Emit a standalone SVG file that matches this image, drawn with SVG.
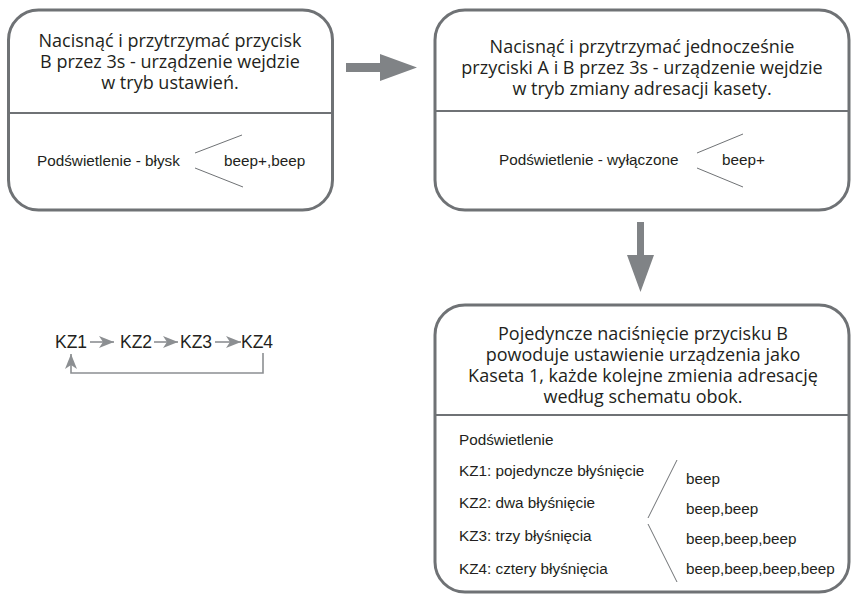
<svg xmlns="http://www.w3.org/2000/svg" width="851" height="595" viewBox="0 0 851 595">
<defs>
<style>
.box{fill:#fff;stroke:#6f7275;stroke-width:3}
.div{stroke:#6f7275;stroke-width:2}
.title{font-family:"Open Sans","Noto Sans",sans-serif;font-size:18px;fill:#231f20;text-anchor:middle}
.body{font-family:"Liberation Sans",Arial,sans-serif;font-size:15.3px;fill:#231f20}
.kz{font-family:"Liberation Sans",Arial,sans-serif;font-size:17.5px;fill:#231f20}
.thin{stroke:#6f7275;stroke-width:1;fill:none}
.big{fill:#808386}
.small{stroke:#8c8f92;stroke-width:1.6;fill:none}
</style>
<marker id="ah" markerUnits="userSpaceOnUse" markerWidth="16" markerHeight="12" viewBox="0 0 16 12" refX="15" refY="6" orient="auto">
<path d="M0,0 L15,6 L0,12 L4,6 z" fill="#8c8f92"/>
</marker>
</defs>
<rect width="851" height="595" fill="#fff"/>

<g id="box1">
<rect class="box" x="8.5" y="10" width="324" height="200" rx="30"/>
<line class="div" x1="8.5" y1="113" x2="332.5" y2="113"/>
<text class="title" x="170" y="47">Nacisnąć i przytrzymać przycisk<tspan x="170" dy="21">B przez 3s - urządzenie wejdzie</tspan><tspan x="170" dy="21">w tryb ustawień.</tspan></text>
<text class="body" x="37" y="166">Podświetlenie - błysk</text>
<line class="thin" x1="195" y1="153" x2="242" y2="135"/>
<line class="thin" x1="195" y1="168" x2="243" y2="187"/>
<text class="body" x="224" y="166">beep+,beep</text>
</g>

<g id="box2">
<rect class="box" x="435" y="10" width="414" height="200" rx="30"/>
<line class="div" x1="435" y1="111" x2="849" y2="111"/>
<text class="title" x="642" y="53">Nacisnąć i przytrzymać jednocześnie<tspan x="642" dy="21">przyciski A i B przez 3s - urządzenie wejdzie</tspan><tspan x="642" dy="21">w tryb zmiany adresacji kasety.</tspan></text>
<text class="body" x="499" y="165">Podświetlenie - wyłączone</text>
<line class="thin" x1="697" y1="153" x2="743" y2="134"/>
<line class="thin" x1="697" y1="168" x2="743" y2="187"/>
<text class="body" x="722" y="165">beep+</text>
</g>

<g id="box3">
<rect class="box" x="435" y="305" width="414" height="287" rx="30"/>
<line class="div" x1="435" y1="415" x2="849" y2="415"/>
<text class="title" x="643" y="340">Pojedyncze naciśnięcie przycisku B<tspan x="643" dy="21">powoduje ustawienie urządzenia jako</tspan><tspan x="643" dy="21">Kaseta 1, każde kolejne zmienia adresację</tspan><tspan x="643" dy="21">według schematu obok.</tspan></text>
<text class="body" x="459" y="445">Podświetlenie</text>
<text class="body" x="459" y="476">KZ1: pojedyncze błyśnięcie</text>
<text class="body" x="459" y="508">KZ2: dwa błyśnięcie</text>
<text class="body" x="459" y="541">KZ3: trzy błyśnięcia</text>
<text class="body" x="459" y="574">KZ4: cztery błyśnięcia</text>
<line class="thin" x1="677" y1="460" x2="648" y2="518"/>
<line class="thin" x1="648" y1="524" x2="677" y2="582"/>
<text class="body" x="686" y="484">beep</text>
<text class="body" x="686" y="514">beep,beep</text>
<text class="body" x="686" y="544">beep,beep,beep</text>
<text class="body" x="686" y="574">beep,beep,beep,beep</text>
</g>

<g id="kz">
<text class="kz" x="55" y="348">KZ1</text>
<text class="kz" x="120" y="348">KZ2</text>
<text class="kz" x="180" y="348">KZ3</text>
<text class="kz" x="241" y="348">KZ4</text>
</g>

<g id="connectors">
<path class="big" d="M346,63 H380 V54 L417,67.5 L380,81 V72 H346 z"/>
<path class="big" d="M637,222 H644 V255 H654 L640.5,292 L627,255 H637 z"/>
<line class="small" x1="90" y1="342" x2="114" y2="342" marker-end="url(#ah)"/>
<line class="small" x1="154" y1="342" x2="178" y2="342" marker-end="url(#ah)"/>
<line class="small" x1="215" y1="342" x2="241" y2="342" marker-end="url(#ah)"/>
<path class="small" d="M263,353 V373 H71 V354" marker-end="url(#ah)"/>
</g>
</svg>
